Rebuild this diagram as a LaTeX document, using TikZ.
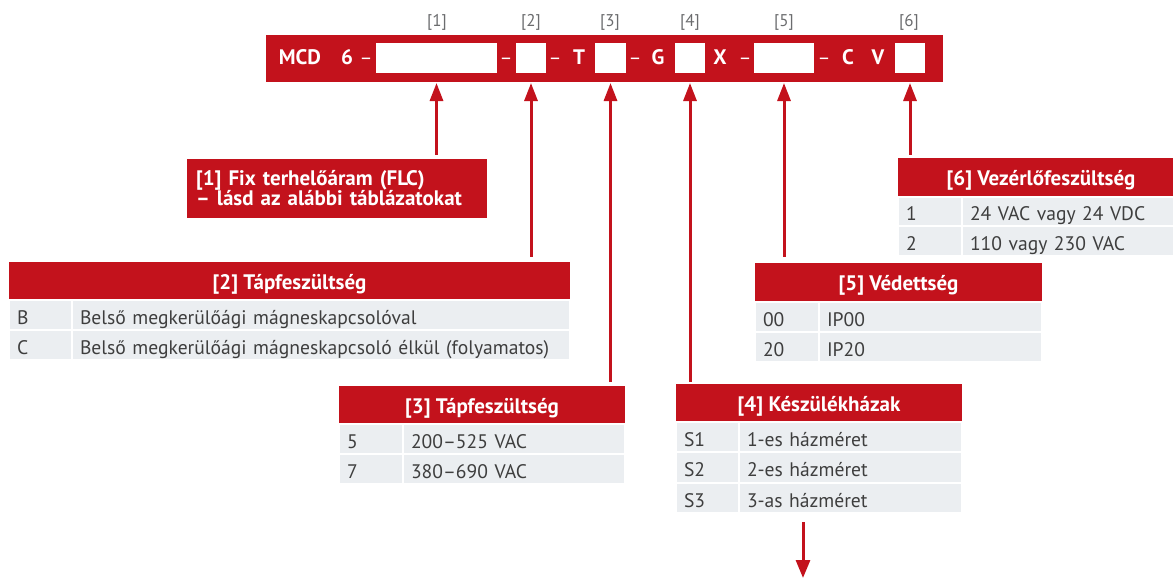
\documentclass[tikz,border=0pt]{standalone}
\usepackage{fontspec}
\setmainfont{PT Sans}
\usetikzlibrary{arrows.meta,calc}
\definecolor{brand}{HTML}{C3121C}
\definecolor{rowgray}{HTML}{EBEEF1}
\definecolor{rowtext}{HTML}{3E3E3E}
\definecolor{labgray}{HTML}{6B6C6E}
\newcommand\hfnt{\bfseries\fontsize{21}{22}\selectfont}
\newcommand\rfnt{\fontsize{19.6}{22}\selectfont}
\begin{document}
\begin{tikzpicture}[x=1pt,y=-1pt,
  hdr/.style={fill=brand,text=white,font=\hfnt,inner sep=0pt,outer sep=0pt,text height=16pt,text depth=0pt,anchor=north west},
  cellk/.style={fill=rowgray,draw=white,line width=1.5pt,text=rowtext,font=\rfnt,inner xsep=8pt,inner ysep=0pt,outer sep=0pt,text height=18pt,text depth=0pt,anchor=north west,align=left},
  wbox/.style={fill=white,inner sep=0pt,outer sep=0pt,anchor=north west,minimum height=30pt},
  bartxt/.style={text=white,font=\hfnt,anchor=base,inner sep=0pt},
  bardash/.style={text=white,font=\rfnt,anchor=base,inner sep=0pt},
  lab/.style={text=labgray,font=\fontsize{17}{18}\selectfont,anchor=base,inner sep=0pt},
  arr/.style={draw=brand,line width=3pt,{Triangle[length=18pt,width=13pt]}-},
  darr/.style={draw=brand,line width=3pt,-{Triangle[length=18pt,width=14pt]}}
]
\useasboundingbox (0,0) rectangle (1173,578);

% code bar
\node[fill=brand,inner sep=0pt,outer sep=0pt,anchor=north west,minimum width=677pt,minimum height=47pt] (bar) at (266,35) {};
\node[wbox,minimum width=121pt] (b1) at (376,43) {};
\node[wbox,minimum width=30pt] (b2) at (516,43) {};
\node[wbox,minimum width=31pt] (b3) at (595,43) {};
\node[wbox,minimum width=30pt] (b4) at (675,43) {};
\node[wbox,minimum width=60pt] (b5) at (754,43) {};
\node[wbox,minimum width=30pt] (b6) at (895,43) {};

\node[bartxt] (tmcd) at (300,65) {MCD};
\node[bartxt] (tsix) at (347,65) {6};
\node[bardash] (d1) at (366,65) {–};
\node[bardash] (d2) at (506,65) {–};
\node[bardash] (d3) at (555,65) {–};
\node[bartxt] (tt) at (579,65) {T};
\node[bardash] (d4) at (635,65) {–};
\node[bartxt] (tg) at (658,65) {G};
\node[bartxt] (tx) at (720,65) {X};
\node[bardash] (d5) at (745,65) {–};
\node[bardash] (d6) at (824,65) {–};
\node[bartxt] (tc) at (848,65) {C};
\node[bartxt] (tv) at (878,65) {V};

\node[lab] (l1) at (437,27) {[1]};
\node[lab] (l2) at (531,27) {[2]};
\node[lab] (l3) at (610,27) {[3]};
\node[lab] (l4) at (690,27) {[4]};
\node[lab] (l5) at (784,27) {[5]};
\node[lab] (l6) at (909,27) {[6]};

% [1] box
\node[fill=brand,text=white,font=\bfseries\fontsize{21}{20}\selectfont,inner xsep=9pt,inner ysep=0pt,outer sep=0pt,
      anchor=north west,minimum height=59pt,text width=282pt,align=left] (flc) at (187,159)
  {[1] Fix terhelőáram (FLC)\\– lásd az alábbi táblázatokat};

% [2] table
\node[hdr,minimum width=561pt,minimum height=38pt] (t2) at (9,262) {[2] Tápfeszültség};
\node[cellk,text width=47pt,minimum height=30pt] (t2k1) at (9,300) {B};
\node[cellk,text width=482pt,minimum height=30pt] (t2v1) at (72,300) {Belső megkerülőági mágneskapcsolóval};
\node[cellk,text width=47pt,minimum height=30pt] (t2k2) at (9,330) {C};
\node[cellk,text width=482pt,minimum height=30pt] (t2v2) at (72,330) {Belső megkerülőági mágneskapcsoló élkül (folyamatos)};

% [3] table
\node[hdr,minimum width=286pt,minimum height=38pt] (t3) at (339,386) {[3] Tápfeszültség};
\node[cellk,text width=48pt,minimum height=30pt] (t3k1) at (339,424) {5};
\node[cellk,text width=206pt,minimum height=30pt] (t3v1) at (403,424) {200–525 VAC};
\node[cellk,text width=48pt,minimum height=30pt] (t3k2) at (339,454) {7};
\node[cellk,text width=206pt,minimum height=30pt] (t3v2) at (403,454) {380–690 VAC};

% [4] table
\node[hdr,minimum width=286pt,minimum height=38pt] (t4) at (676,384) {[4] Készülékházak};
\node[cellk,text width=47pt,minimum height=30pt] (t4k1) at (676,422) {S1};
\node[cellk,text width=207pt,minimum height=30pt] (t4v1) at (739,422) {1-es házméret};
\node[cellk,text width=47pt,minimum height=31pt] (t4k2) at (676,452) {S2};
\node[cellk,text width=207pt,minimum height=31pt] (t4v2) at (739,452) {2-es házméret};
\node[cellk,text width=47pt,minimum height=30pt] (t4k3) at (676,483) {S3};
\node[cellk,text width=207pt,minimum height=30pt] (t4v3) at (739,483) {3-as házméret};

% [5] table
\node[hdr,minimum width=287pt,minimum height=39pt] (t5) at (755,263) {[5] Védettség};
\node[cellk,text width=48pt,minimum height=30pt] (t5k1) at (755,302) {00};
\node[cellk,text width=207pt,minimum height=30pt] (t5v1) at (819,302) {IP00};
\node[cellk,text width=48pt,minimum height=30pt] (t5k2) at (755,332) {20};
\node[cellk,text width=207pt,minimum height=30pt] (t5v2) at (819,332) {IP20};

% [6] table
\node[hdr,minimum width=286pt,minimum height=39pt] (t6) at (898,158) {[6] Vezérlőfeszültség};
\node[cellk,text width=48pt,minimum height=29pt] (t6k1) at (898,197) {1};
\node[cellk,text width=206pt,minimum height=29pt] (t6v1) at (962,197) {24 VAC vagy 24 VDC};
\node[cellk,text width=48pt,minimum height=30pt] (t6k2) at (898,226) {2};
\node[cellk,text width=206pt,minimum height=30pt] (t6v2) at (962,226) {110 vagy 230 VAC};

% arrows
\draw[arr] ([yshift=-1pt]b1.south |- bar.south) -- ([yshift=4pt]b1.south |- flc.north);
\draw[arr] ([yshift=-1pt]b2.south |- bar.south) -- ([yshift=5pt]b2.south |- t2.north);
\draw[arr] ([yshift=-1pt]b3.south |- bar.south) -- ([yshift=4pt]b3.south |- t3.north);
\draw[arr] ([yshift=-1pt]b4.south |- bar.south) -- ([yshift=2pt]b4.south |- t4.north);
\draw[arr] ([yshift=-1pt]b5.south |- bar.south) -- ([yshift=6pt]b5.south |- t5.north);
\draw[arr] ([yshift=-1pt]b6.south |- bar.south) -- ([yshift=3pt]b6.south |- t6.north);

\coordinate (dnend) at (803,578);
\draw[darr] ([yshift=-9pt]dnend |- t4v3.south) -- (dnend);
\end{tikzpicture}
\end{document}
